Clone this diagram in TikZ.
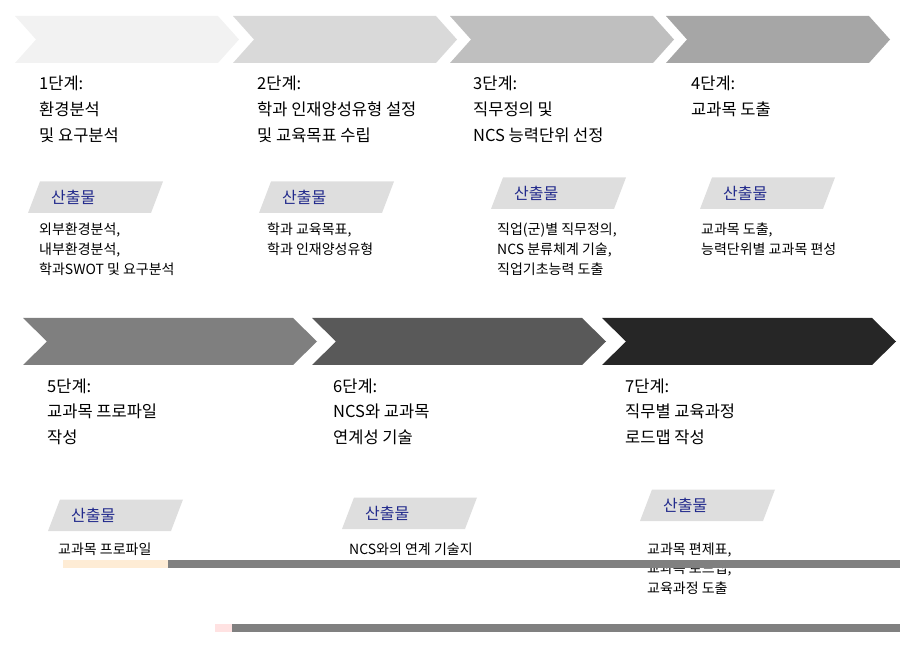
\documentclass[tikz,border=0pt]{standalone}
\usepackage{fontspec}
\setmainfont{Noto Sans CJK KR}
\usepackage{xcolor}
\usepackage{tikz}
\usetikzlibrary{positioning}
\definecolor{stepA}{RGB}{242,242,242}
\definecolor{stepB}{RGB}{217,217,217}
\definecolor{stepC}{RGB}{191,191,191}
\definecolor{stepD}{RGB}{166,166,166}
\definecolor{stepE}{RGB}{127,127,127}
\definecolor{stepF}{RGB}{89,89,89}
\definecolor{stepG}{RGB}{38,38,38}
\definecolor{boxgray}{RGB}{222,222,222}
\definecolor{navy}{RGB}{34,42,140}
\definecolor{bargray}{RGB}{128,128,128}

\begin{document}
\begin{tikzpicture}[
    x=1pt, y=-1pt,
    stage/.style={font=\fontsize{16.5}{25.8}\selectfont, align=left, anchor=base west, inner sep=0pt},
    product/.style={font=\fontsize{16}{18}\selectfont, text=navy, anchor=west, inner sep=0pt},
    result/.style={font=\fontsize{14}{19.6}\selectfont, align=left, anchor=base west, inner sep=0pt}
]
\useasboundingbox (0,0) rectangle (900,652);

% Chevrons, first row
\foreach \x/\c in {15/stepA, 233/stepB, 450/stepC, 666/stepD}
  \fill[\c] (\x,16) -- ++(203,0) -- ++(21,23.5) -- ++(-21,23.5) -- ++(-203,0) -- ++(21,-23.5) -- cycle;

% Chevrons, second row
\foreach \x/\c in {23/stepE, 312/stepF, 602/stepG}
  \fill[\c] (\x,318) -- ++(270,0) -- ++(24,23.5) -- ++(-24,23.5) -- ++(-270,0) -- ++(24,-23.5) -- cycle;

% Output boxes
\foreach \x/\y in {28/213, 259/213, 491/209, 700/209, 48/531, 342/529, 640/521}
  \fill[boxgray] (\x,\y) -- ++(12,-31.5) -- ++(123,0) -- ++(-12,31.5) -- cycle;

% Stages (placed at the baseline of the last line)
\node[stage] (s1) at (39,141.6) {1단계:\\환경분석\\및 요구분석};
\node[stage] (s2) at (257,141.6) {2단계:\\학과 인재양성유형 설정\\및 교육목표 수립};
\node[stage] (s3) at (473,141.6) {3단계:\\직무정의 및\\NCS 능력단위 선정};
\node[stage] (s4) at (691,115.8) {4단계:\\교과목 도출};
\node[stage] (s5) at (47,443.6) {5단계:\\교과목 프로파일\\작성};
\node[stage] (s6) at (333,443.6) {6단계:\\NCS와 교과목\\연계성 기술};
\node[stage] (s7) at (625,443.6) {7단계:\\직무별 교육과정\\로드맵 작성};

% Output labels
\node[product] (p1) at (51,197.5) {산출물};
\node[product] (p2) at (282,197.5) {산출물};
\node[product] (p3) at (514,193) {산출물};
\node[product] (p4) at (723,193) {산출물};
\node[product] (p5) at (71,515) {산출물};
\node[product] (p6) at (365,513) {산출물};
\node[product] (p7) at (663,505) {산출물};

% Outputs
\node[result] (r1) at (39,274.2) {외부환경분석,\\내부환경분석,\\학과SWOT 및 요구분석};
\node[result] (r2) at (267,254.6) {학과 교육목표,\\학과 인재양성유형};
\node[result] (r3) at (497,274.2) {직업(군)별 직무정의,\\NCS 분류체계 기술,\\직업기초능력 도출};
\node[result] (r4) at (701,254.6) {교과목 도출,\\능력단위별 교과목 편성};
\node[result] (r5) at (58,554) {교과목 프로파일};
\node[result] (r6) at (349,554) {NCS와의 연계 기술지};
\node[result] (r7) at (647,593.2) {교과목 편제표,\\교과목 로드맵,\\교육과정 도출};

% Bars
\fill[yellow!20!pink!35] (63,560) rectangle (168,568);
\fill[bargray] (168,560) rectangle (900,568);
\fill[pink!45] (215,624) rectangle (232,632);
\fill[bargray] (232,624) rectangle (900,632);

\end{tikzpicture}
\end{document}
